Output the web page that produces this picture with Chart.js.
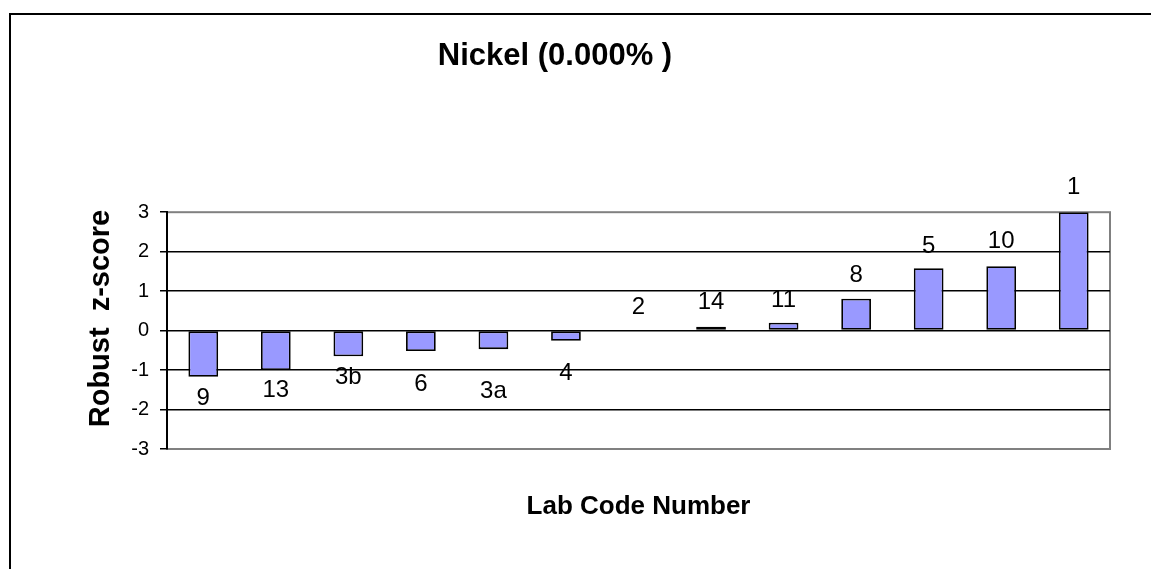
<!DOCTYPE html>
<html>
<head>
<meta charset="utf-8">
<script src="https://cdn.jsdelivr.net/npm/chart.js@4/dist/chart.umd.min.js"></script>
<style>
  html, body { margin: 0; padding: 0; background: #fff; }
  #c { display: block; }
</style>
</head>
<body>
<canvas id="c" width="1151" height="569"></canvas>
<script>
// ---- data ----
const labCodes = ['9', '13', '3b', '6', '3a', '4', '2', '14', '11', '8', '5', '10', '1'];
const zScores  = [-1.17, -1.0, -0.65, -0.52, -0.47, -0.26, 0, 0.10, 0.20, 0.81, 1.58, 1.63, 3.0];
// where each lab-code label sits (in z-score units)
const labelPos = [-1.71, -1.51, -1.19, -1.36, -1.53, -1.09, 0.60, 0.71, 0.77, 1.41, 2.14, 2.25, 3.62];
const yTicks   = [-3, -2, -1, 0, 1, 2, 3];

const FONT = '"Liberation Sans", Arial, sans-serif';

const frame = {
  id: 'frame',
  beforeDraw(chart) {
    const ctx = chart.ctx, a = chart.chartArea;
    ctx.save();
    ctx.fillStyle = '#ffffff';
    ctx.fillRect(0, 0, chart.width, chart.height);
    ctx.strokeStyle = '#000000';
    ctx.lineWidth = 2;
    ctx.strokeRect(10, 14, 1400, 800);
    ctx.strokeStyle = '#808080';
    ctx.lineWidth = 2;
    ctx.strokeRect(a.left, a.top, a.right - a.left, a.bottom - a.top);
    ctx.restore();
  }
};

const codeLabels = {
  id: 'codeLabels',
  afterDatasetsDraw(chart) {
    const ctx = chart.ctx;
    const meta = chart.getDatasetMeta(0);
    const ys = chart.scales.y;
    ctx.save();
    ctx.fillStyle = '#000000';
    ctx.font = '24px ' + FONT;
    ctx.textAlign = 'center';
    ctx.textBaseline = 'middle';
    meta.data.forEach((bar, i) => {
      ctx.fillText(labCodes[i], bar.x, ys.getPixelForValue(labelPos[i]));
    });
    ctx.restore();
  }
};

new Chart(document.getElementById('c'), {
  type: 'bar',
  data: {
    labels: labCodes,
    datasets: [{
      data: zScores,
      backgroundColor: '#9999FF',
      borderColor: '#000000',
      borderWidth: 1.8,
      borderSkipped: false,
      barPercentage: 0.41,
      categoryPercentage: 1.0
    }]
  },
  options: {
    responsive: false,
    animation: false,
    layout: { padding: { left: 0, top: 0, right: 41, bottom: 0 } },
    plugins: {
      legend: { display: false },
      tooltip: { enabled: false },
      title: {
        display: true,
        text: 'Nickel (0.000% )',
        color: '#000000',
        font: { family: FONT, size: 31, weight: 'bold', lineHeight: 1.2 },
        padding: { top: 38, bottom: 137 }
      }
    },
    scales: {
      x: {
        type: 'category',
        grid: { display: false },
        border: { display: false },
        ticks: { display: false },
        title: {
          display: true,
          text: 'Lab Code Number',
          color: '#000000',
          font: { family: FONT, size: 26, weight: 'bold', lineHeight: 1.2 },
          padding: { top: 0, bottom: 47 }
        },
        afterFit(s) { s.height = 120; }
      },
      y: {
        min: -3,
        max: 3,
        afterBuildTicks(s) { s.ticks = yTicks.map(v => ({ value: v })); },
        ticks: {
          color: '#000000',
          font: { family: FONT, size: 20 },
          padding: 11,
          callback: v => String(v)
        },
        grid: {
          color: ctx => (ctx.tick && Math.abs(ctx.tick.value) === 3) ? 'rgba(0,0,0,0)' : '#000000',
          tickColor: '#000000',
          lineWidth: 1.5,
          tickLength: 7
        },
        border: { display: true, color: '#000000', width: 2 },
        title: {
          display: true,
          text: '   Robust  z-score',
          color: '#000000',
          font: { family: FONT, size: 29, weight: 'bold', lineHeight: 1.2 },
          padding: { top: 84, bottom: 0 }
        },
        afterFit(s) { s.width = 167; }
      }
    }
  },
  plugins: [frame, codeLabels]
});
</script>
</body>
</html>
